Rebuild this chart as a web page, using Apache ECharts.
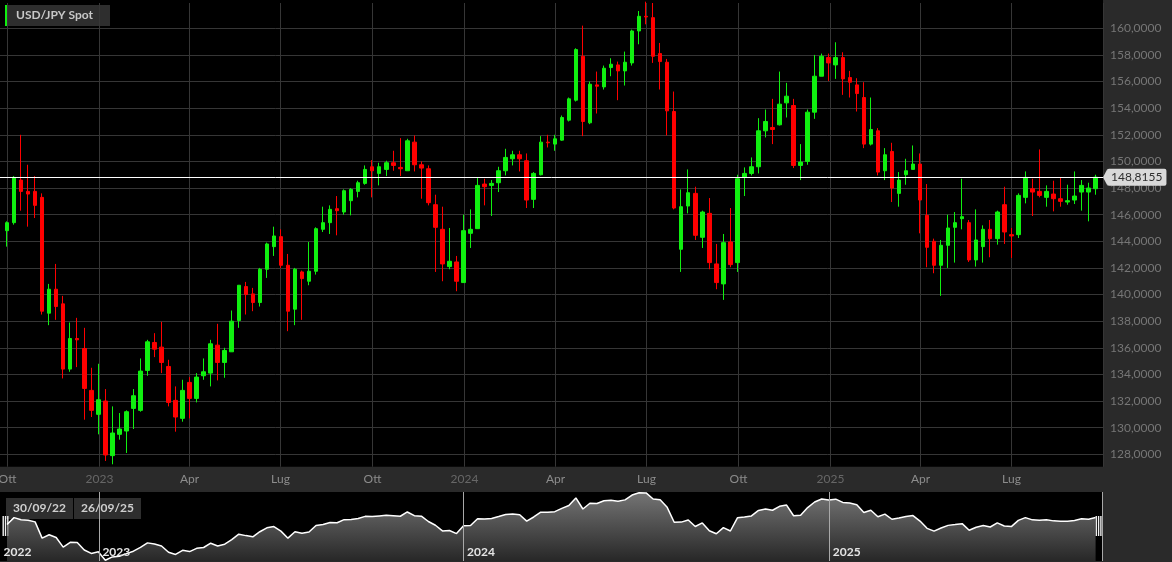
<!DOCTYPE html>
<html>
<head>
<meta charset="utf-8">
<script src="https://cdn.jsdelivr.net/npm/echarts@6/dist/echarts.min.js"></script>
<style>
html,body{margin:0;padding:0;background:#2a2a2a;}
#chart{width:1172px;height:562px;}
</style>
</head>
<body>
<div id="chart"></div>
<script>
// ---------- DATA ----------
const seriesName = 'USD/JPY Spot';
const rangeLabels = ['30/09/22', '26/09/25'];
const firstWeek = '2022-10-03';
const weekCount = 156;
const open = [144.8,145.4,148.6,147.75,147.75,147.3,138.6,140.4,139.3,134.4,136.7,135.95,132.8,131.0,132.0,127.9,129.5,129.75,131.45,131.3,
134.3,136.4,136.05,134.6,132.05,130.7,133.4,132.2,133.9,134.1,136.2,134.9,135.7,138.05,140.6,140.05,139.4,141.9,143.6,144.35,
142.2,138.9,141.7,141.0,141.75,144.9,145.4,146.45,146.2,147.05,147.75,148.35,149.6,149.1,149.4,149.9,149.55,149.3,151.45,149.75,
149.45,146.75,144.9,142.1,142.45,140.9,144.6,144.95,148.3,148.2,148.4,149.3,150.2,150.5,150.05,147.15,149.0,151.45,151.3,151.6,
153.1,154.6,157.9,152.9,155.75,155.6,157.05,157.25,156.8,157.4,159.8,160.9,160.8,158.1,157.45,153.75,143.4,146.65,147.6,144.3,
146.1,142.3,140.8,143.95,142.4,148.8,149.1,149.6,152.3,152.55,152.75,154.4,154.2,149.7,150.0,153.7,156.4,157.8,157.25,157.8,
156.3,155.75,154.8,151.3,152.3,149.3,150.75,147.6,149.0,149.4,149.8,145.95,144.0,142.2,143.7,145.05,145.7,145.4,142.6,143.6,
144.9,144.2,146.75,144.5,144.5,147.3,147.95,147.75,147.3,147.55,147.2,146.95,147.1,147.7,147.7,147.95];
const close = [145.4,148.8,147.75,147.55,146.7,138.75,140.4,139.1,134.4,136.7,136.6,132.95,131.3,132.1,127.95,129.6,129.9,131.2,132.4,134.25,
136.45,135.9,134.9,131.9,130.8,132.8,132.2,133.8,134.2,136.3,134.9,135.8,138.0,140.7,140.0,139.4,141.9,143.8,144.4,142.2,
138.75,141.9,141.2,141.75,144.95,145.4,146.4,146.3,147.8,147.9,148.4,149.4,149.3,149.6,149.9,149.7,149.45,151.55,149.75,149.5,
146.9,145.05,142.3,142.5,141.0,144.8,144.9,148.2,148.1,148.35,149.3,150.3,150.5,150.2,147.1,149.1,151.45,151.4,151.7,153.3,
154.7,158.4,153.0,155.8,155.65,157.0,157.3,156.8,157.45,159.8,160.9,160.85,157.9,157.5,153.8,146.5,146.6,147.65,144.45,146.2,
142.4,140.9,143.9,142.25,148.7,149.1,149.6,152.3,153.0,152.4,154.3,154.9,149.7,149.95,153.7,156.4,157.9,157.4,157.8,156.2,
155.95,155.1,151.3,152.4,149.2,150.5,148.0,148.6,149.3,149.8,147.1,143.55,142.2,143.7,145.0,145.4,145.85,142.6,144.1,144.9,
144.2,146.2,144.7,144.4,147.45,148.8,147.7,147.45,147.75,147.2,147.0,147.05,147.4,148.2,148.0,148.8155];
const high = [145.5,148.9,152.0,149.75,148.9,147.6,140.8,142.3,139.9,137.9,138.25,137.5,134.5,134.8,132.9,131.6,131.1,131.3,132.9,135.2,
136.6,137.1,137.95,135.1,133.1,133.6,133.8,134.1,135.2,136.6,137.8,136.0,138.8,140.7,140.95,140.5,142.0,143.9,145.1,144.9,
143.05,142.0,141.8,143.95,145.05,146.6,146.7,147.4,147.9,148.0,148.55,149.7,150.1,149.9,150.05,150.8,151.75,151.7,151.95,150.0,
149.7,147.5,146.6,145.0,142.9,146.0,146.4,148.75,148.7,148.6,149.6,150.95,150.8,150.8,150.6,149.2,151.9,152.0,152.0,153.45,
154.8,158.5,160.2,156.0,156.75,157.2,157.75,157.5,158.25,159.9,161.3,162.0,161.9,158.9,157.7,155.25,147.9,149.4,148.1,146.3,
147.25,143.8,144.55,146.5,149.0,149.55,150.3,153.25,153.9,154.7,156.75,155.9,154.7,151.3,153.9,158.0,158.1,158.1,158.95,158.2,
156.8,156.25,155.95,154.8,152.5,151.0,151.4,149.2,150.2,151.2,150.6,148.3,144.2,144.1,146.0,146.2,148.7,145.6,146.4,145.2,
145.6,146.3,148.1,145.0,147.6,149.25,148.7,150.9,148.2,148.55,148.8,148.25,149.25,148.6,148.4,149.0];
const low = [143.6,145.25,146.3,145.1,145.75,138.5,137.7,138.1,133.7,134.2,134.55,130.6,130.8,129.5,127.5,127.25,129.1,128.1,129.9,131.2,
133.9,135.3,134.1,131.6,129.7,130.45,130.7,131.9,133.6,133.1,133.55,133.75,135.7,137.5,138.5,138.75,139.1,141.25,142.9,142.0,
137.25,137.7,138.1,140.7,141.5,144.7,144.55,144.45,146.0,145.95,147.3,148.25,147.3,148.2,148.9,149.3,148.9,149.3,149.25,147.2,
146.7,141.7,141.0,141.9,140.25,140.9,143.5,144.95,146.7,145.9,147.7,148.95,149.7,149.25,146.5,146.5,148.95,151.05,150.8,151.55,
153.0,154.5,151.9,152.8,153.6,155.4,156.4,154.6,155.7,157.2,158.8,160.3,157.4,155.4,151.95,146.4,141.7,146.1,144.1,143.5,
141.9,140.4,139.6,142.05,141.7,147.4,148.95,149.1,151.8,151.3,152.7,153.3,149.5,148.6,149.75,153.2,156.4,156.05,156.2,155.0,
154.8,153.75,151.0,151.2,148.95,148.6,146.95,146.6,148.25,149.4,144.6,142.05,141.6,139.9,142.0,142.4,144.9,142.45,142.1,142.4,
142.8,143.75,143.8,142.75,144.25,146.85,145.9,147.3,146.6,146.25,146.6,146.75,146.8,146.3,145.5,147.5];

// axis tick labels (Italian month abbreviations / years), placed at these dates
const quarterDates  = ['2022-10-01','2023-01-01','2023-04-01','2023-07-01','2023-10-01','2024-01-01','2024-04-01','2024-07-01','2024-10-01','2025-01-01','2025-04-01','2025-07-01'];
const quarterLabels = ['Ott','2023','Apr','Lug','Ott','2024','Apr','Lug','Ott','2025','Apr','Lug'];
const yearDates  = ['2022-09-24','2023-01-01','2024-01-01','2025-01-01'];
const yearLabels = ['2022','2023','2024','2025'];
const dayAxisStart = '2022-09-24';
const dayAxisLength = 1103;

// ---------- derived categories ----------
function addDays(iso, n){
  const d = new Date(iso + 'T00:00:00Z');
  d.setUTCDate(d.getUTCDate() + n);
  return d.toISOString().slice(0,10);
}
const weeks = [];
for (let i = 0; i < weekCount; i++) weeks.push(addDays(firstWeek, i*7));
const days = [];
for (let i = 0; i < dayAxisLength; i++) days.push(addDays(dayAxisStart, i));
const quarterMap = {}; quarterDates.forEach((d,i)=>quarterMap[d]=quarterLabels[i]);
const yearMap = {}; yearDates.forEach((d,i)=>yearMap[d]=yearLabels[i]);
const candles = open.map((o,i)=>[o, close[i], low[i], high[i]]);
const lastClose = close[close.length-1];
const fmt = v => v.toFixed(4).replace('.', ',');

// ---------- layout ----------
const FONT = 'Lato';
const PLOT_H = 466.7;
const PX_PER_UNIT = 13.3125;
const Y_MIN = 127.069, Y_MAX = 162.126;   // candle grid spans the whole plot
const AX_MAX = 161.9;                      // axis grid stops just below the 162 line
const AX_TOP = (Y_MAX - AX_MAX) * PX_PER_UNIT;

const chart = echarts.init(document.getElementById('chart'), null, {renderer:'canvas'});
const option = {
  backgroundColor: '#2a2a2a',
  animation: false,
  textStyle: {fontFamily: FONT},
  graphic: {elements: [
    {type:'rect', z: -10, shape:{x:0, y:0, width:1103, height:PLOT_H}, style:{fill:'#000'}},
    {type:'rect', z: -10, shape:{x:0, y:492, width:1102, height:69}, style:{fill:'#000'}}
  ]},
  grid: [
    {left: 3.5, top: 0, width: 1095.6, height: PLOT_H, outerBoundsMode: 'none', containLabel: false},
    {left: 0, top: AX_TOP, width: 1103, height: PLOT_H - AX_TOP, outerBoundsMode: 'none', containLabel: false},
    {left: 3.5, top: 492, width: 1095.6, height: 69, outerBoundsMode: 'none', containLabel: false},
    {left: 0, top: 492, width: 1102, height: 69, outerBoundsMode: 'none', containLabel: false}
  ],
  xAxis: [
    {gridIndex: 0, type: 'category', data: weeks, boundaryGap: true, show: false},
    {gridIndex: 1, type: 'category', data: days, boundaryGap: true,
      axisLine: {show: false}, axisTick: {show: false},
      axisLabel: {
        interval: (i, v) => quarterMap[v] !== undefined,
        formatter: v => { const t = quarterMap[v]; return /^\d/.test(t) ? '{y|' + t + '}' : '{m|' + t + '}'; },
        margin: 6, fontSize: 12, fontFamily: FONT,
        rich: {m: {color: '#8c8c8c', fontSize: 12, fontFamily: FONT}, y: {color: '#676767', fontSize: 12, fontFamily: FONT}}
      },
      splitLine: {show: true, interval: (i, v) => quarterMap[v] !== undefined, lineStyle: {color: '#363636', width: 1}}
    },
    {gridIndex: 2, type: 'category', data: weeks, boundaryGap: true, show: false},
    {gridIndex: 3, type: 'category', data: days, boundaryGap: true, z: 5,
      axisLine: {show: false}, axisTick: {show: false},
      axisLabel: {
        inside: true, interval: (i, v) => yearMap[v] !== undefined,
        formatter: v => yearMap[v], align: 'left', padding: [0,0,0,3], margin: 3,
        color: '#e4e4e4', fontWeight: 'bold', fontSize: 12, fontFamily: FONT
      },
      splitLine: {show: true, interval: (i, v) => yearMap[v] !== undefined && i > 0, lineStyle: {color: '#a8a8a8', width: 1}}
    }
  ],
  yAxis: [
    {gridIndex: 0, type: 'value', min: Y_MIN, max: Y_MAX, show: false, splitLine: {show: false}},
    {gridIndex: 1, type: 'value', min: Y_MIN, max: AX_MAX, position: 'right', splitNumber: 17, minInterval: 2, maxInterval: 2,
      axisLine: {show: false}, axisTick: {show: false},
      axisLabel: {formatter: v => (Math.abs(v/2 - Math.round(v/2)) < 1e-6 ? fmt(v) : ''), color: '#767676', fontSize: 12, fontFamily: FONT, margin: 7, showMinLabel: false, showMaxLabel: false},
      splitLine: {show: true, showMinLine: false, showMaxLine: false, lineStyle: {color: '#363636', width: 1}}
    },
    {gridIndex: 2, type: 'value', min: 127.6, max: 161.3, show: false, splitLine: {show: false}},
    {gridIndex: 3, type: 'value', show: false, splitLine: {show: false}}
  ],
  series: [
    {
      name: seriesName, type: 'candlestick', xAxisIndex: 0, yAxisIndex: 0,
      data: candles, barWidth: 4,
      itemStyle: {color: '#10f010', color0: '#ff0000', borderColor: '#10f010', borderColor0: '#ff0000', borderWidth: 1}
    },
    {
      name: 'last', type: 'line', xAxisIndex: 1, yAxisIndex: 1, z: 4,
      data: [[weeks[weeks.length-1], lastClose]], showSymbol: false, symbolSize: 0, lineStyle: {opacity: 0},
      markLine: {
        silent: true, symbol: ['none','none'], animation: false,
        lineStyle: {color: '#ffffff', width: 1, type: 'solid'},
        data: [{yAxis: lastClose}],
        label: {show: true, position: 'end', distance: 4, formatter: () => fmt(lastClose),
          backgroundColor: '#d9d9d9', color: '#2e2e2e', fontSize: 12, fontFamily: FONT, lineHeight: 13,
          padding: [2,4,2,4], borderRadius: 2}
      }
    },
    {
      name: 'nav', type: 'line', xAxisIndex: 2, yAxisIndex: 2, data: close, showSymbol: false, symbol: 'none',
      lineStyle: {color: '#ffffff', width: 1.5},
      areaStyle: {color: new echarts.graphic.LinearGradient(0,0,0,1,[{offset:0,color:'#a6a6a6'},{offset:1,color:'#383838'}])}
    }
  ]
};
chart.setOption(option);

const yLast = chart.convertToPixel({yAxisIndex: 1}, lastClose);
const xR = chart.convertToPixel({xAxisIndex: 2}, weeks[weeks.length-1]);
const xL = chart.convertToPixel({xAxisIndex: 2}, weeks[0]);
function handle(x){
  return {type: 'group', z: 10, children: [0,2.3,4.6].map(dx => ({type:'rect', shape:{x: x+dx, y: 516, width: 1.4, height: 20}, style:{fill:'#f0f0f0'}}))};
}
chart.setOption({
  graphic: {elements: [
    {type:'rect', z: -10, shape:{x:0, y:0, width:1103, height:PLOT_H}, style:{fill:'#000'}},
    {type:'rect', z: -10, shape:{x:0, y:492, width:1102, height:69}, style:{fill:'#000'}},
    {type:'polygon', z: 10, shape:{points:[[1103, yLast],[1107.5, yLast-8.5],[1107.5, yLast+8.5]]}, style:{fill:'#d9d9d9'}},
    {type:'group', z: 10, children: [
      {type:'rect', shape:{x:5, y:5, width:105, height:21}, style:{fill:'#2e2e2e'}},
      {type:'rect', shape:{x:5, y:5, width:2, height:21}, style:{fill:'#10f010'}},
      {type:'text', x: 16, y: 15.5, style:{text: seriesName, fill:'#c8c8c8', font:'bold 12px Lato', verticalAlign:'middle'}}
    ]},
    {type:'group', z: 10, children: [
      {type:'rect', shape:{x:6, y:498, width:67, height:21}, style:{fill:'#2e2e2e'}},
      {type:'text', x: 39.5, y: 508.5, style:{text: rangeLabels[0], fill:'#cfcfcf', font:'bold 12px Lato', align:'center', verticalAlign:'middle'}},
      {type:'rect', shape:{x:74, y:498, width:67, height:21}, style:{fill:'#2e2e2e'}},
      {type:'text', x: 107.5, y: 508.5, style:{text: rangeLabels[1], fill:'#cfcfcf', font:'bold 12px Lato', align:'center', verticalAlign:'middle'}}
    ]},
    handle(xL - 4.5),
    handle(xR)
  ]}
});
</script>
</body>
</html>
